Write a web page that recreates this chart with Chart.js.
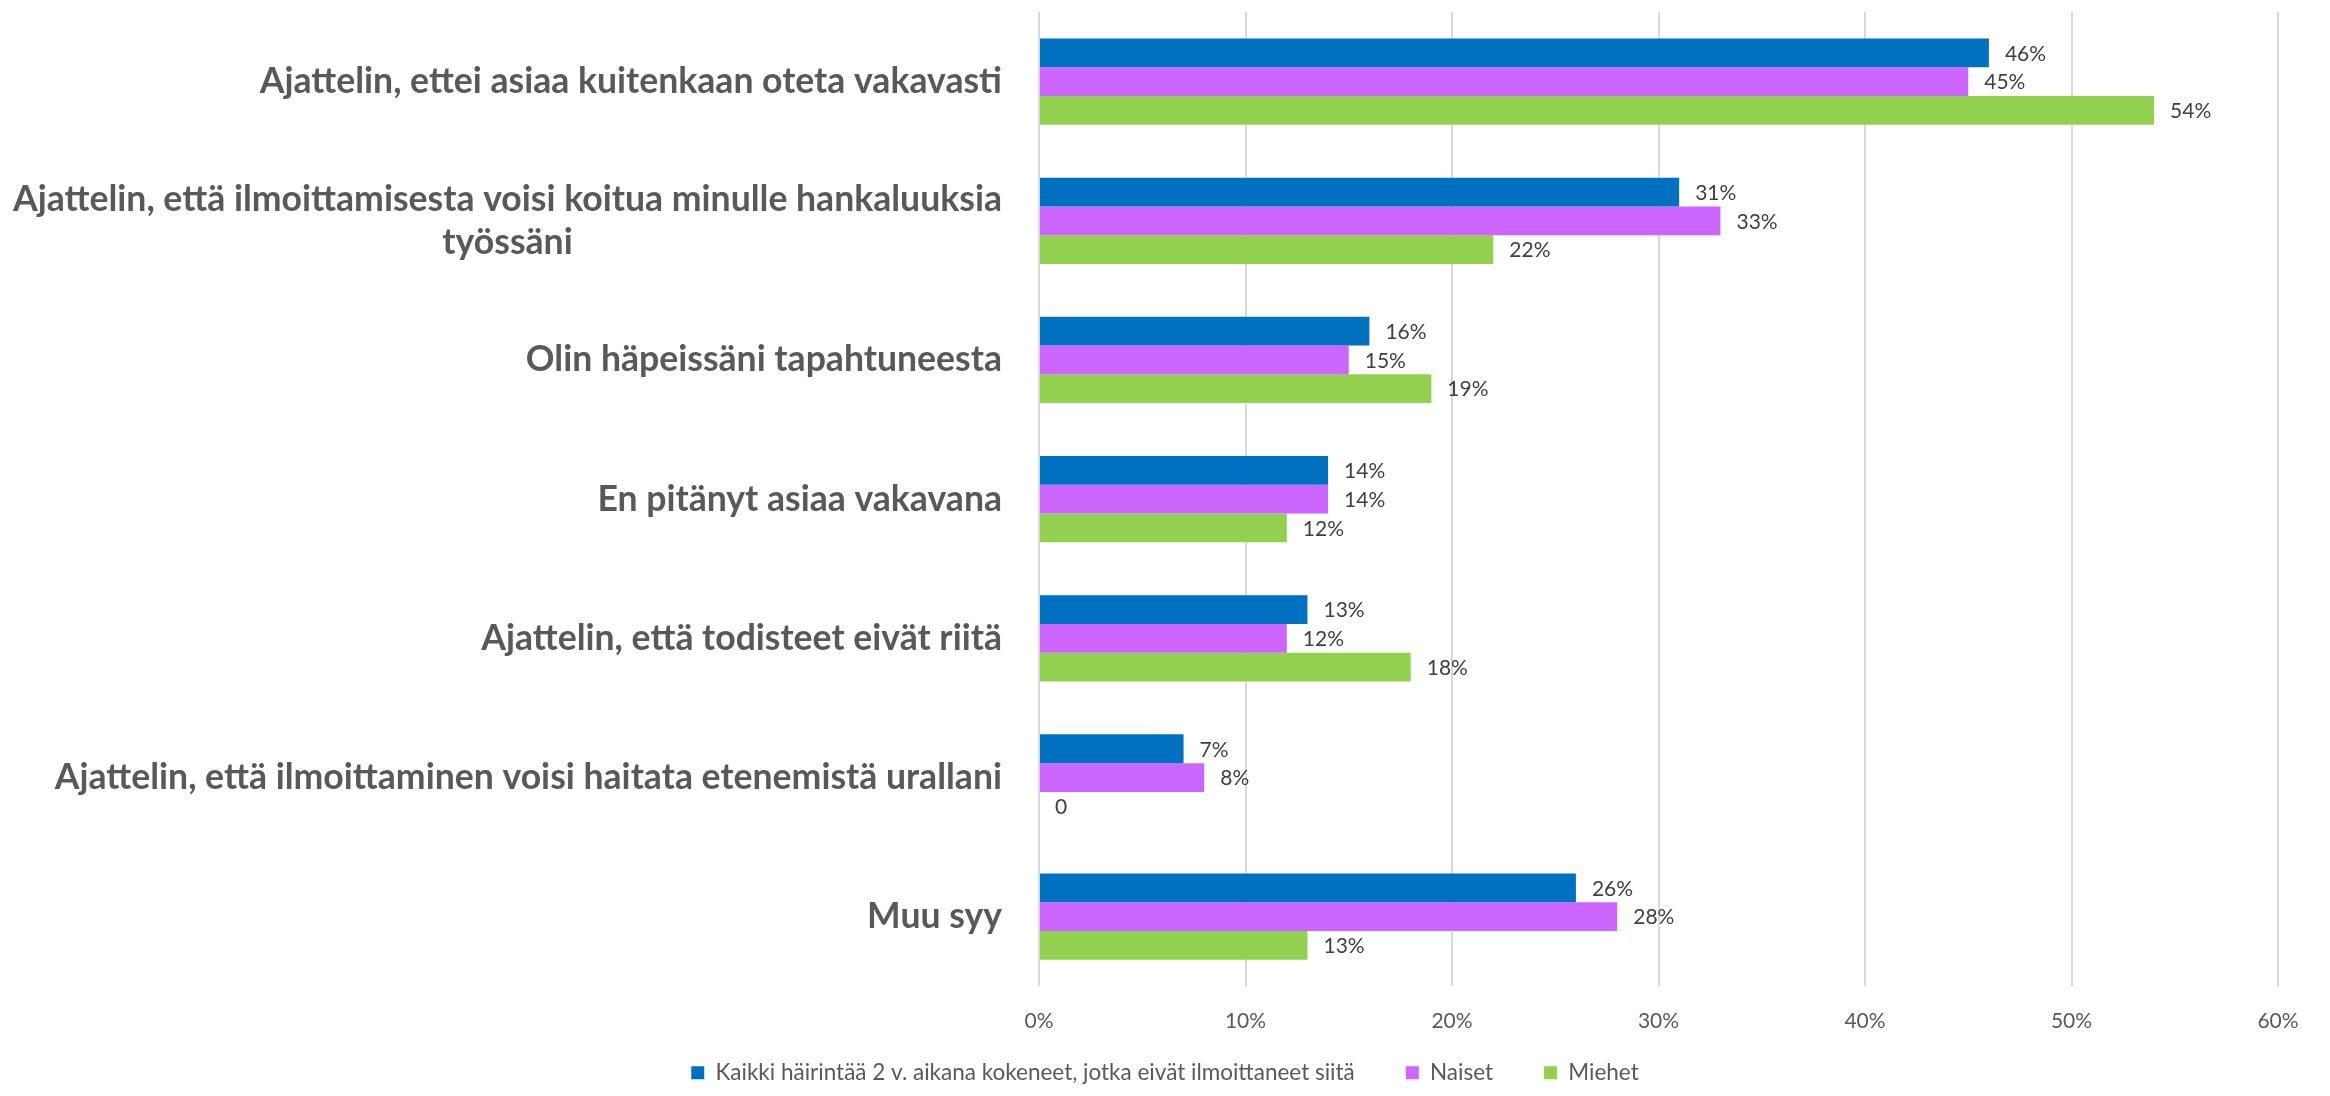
<!DOCTYPE html>
<html>
<head>
<meta charset="utf-8">
<title>Syyt olla ilmoittamatta häirinnästä</title>
<script src="https://cdn.jsdelivr.net/npm/chart.js@4.4.1/dist/chart.umd.min.js"></script>
<style>
  html, body { margin: 0; padding: 0; background: #fff; }
  canvas { display: block; }
</style>
</head>
<body>
<canvas id="reasonChart" width="2330" height="1096"></canvas>
<script>
// Category labels (one array entry per line of text)
const CATEGORIES = [
  ['Ajattelin, ettei asiaa kuitenkaan oteta vakavasti'],
  ['Ajattelin, että ilmoittamisesta voisi koitua minulle hankaluuksia', 'työssäni'],
  ['Olin häpeissäni tapahtuneesta'],
  ['En pitänyt asiaa vakavana'],
  ['Ajattelin, että todisteet eivät riitä'],
  ['Ajattelin, että ilmoittaminen voisi haitata etenemistä urallani'],
  ['Muu syy'],
];

const SERIES_NAMES = [
  'Kaikki häirintää 2 v. aikana kokeneet, jotka eivät ilmoittaneet siitä',
  'Naiset',
  'Miehet',
];

const ALL_VALUES   = [46, 31, 16, 14, 13, 7, 26];
const WOMEN_VALUES = [45, 33, 15, 14, 12, 8, 28];
const MEN_VALUES   = [54, 22, 19, 12, 18, 0, 13];

const X_MIN = 0;
const X_MAX = 60;
const X_STEP = 10;

const SERIES_COLORS = ['#0070C0', '#CC66FF', '#92D050'];

const FONT = 'Lato, "Open Sans", sans-serif';

// Value labels drawn at the end of each bar
const barValueLabels = {
  id: 'barValueLabels',
  afterDatasetsDraw(chart) {
    const ctx = chart.ctx;
    ctx.save();
    ctx.font = '21px ' + FONT;
    ctx.fillStyle = '#404040';
    ctx.textAlign = 'left';
    ctx.textBaseline = 'middle';
    chart.data.datasets.forEach((ds, di) => {
      const meta = chart.getDatasetMeta(di);
      if (meta.hidden) return;
      meta.data.forEach((bar, i) => {
        const v = ds.data[i];
        ctx.fillText(v === 0 ? '0' : v + '%', bar.x + 16, bar.y + 1);
      });
    });
    ctx.restore();
  }
};

// Category labels: right-aligned block, lines centred inside it (like Excel)
const categoryLabels = {
  id: 'categoryLabels',
  afterDraw(chart) {
    const ctx = chart.ctx;
    const yScale = chart.scales.y;
    const rightEdge = chart.chartArea.left - 37;
    const lineHeight = 43;
    ctx.save();
    ctx.font = 'bold 35.6px ' + FONT;
    ctx.fillStyle = '#595959';
    ctx.textAlign = 'center';
    ctx.textBaseline = 'middle';
    CATEGORIES.forEach((lines, i) => {
      const y = yScale.getPixelForValue(i);
      const maxW = Math.max(...lines.map(l => ctx.measureText(l).width));
      const cx = rightEdge - maxW / 2;
      lines.forEach((line, j) => {
        ctx.fillText(line, cx, y + (j - (lines.length - 1) / 2) * lineHeight);
      });
    });
    ctx.restore();
  }
};

new Chart(document.getElementById('reasonChart'), {
  type: 'bar',
  data: {
    labels: CATEGORIES.map(c => c.join(' ')),
    datasets: [ALL_VALUES, WOMEN_VALUES, MEN_VALUES].map((vals, i) => ({
      label: SERIES_NAMES[i],
      data: vals,
      backgroundColor: SERIES_COLORS[i],
      borderWidth: 0,
      categoryPercentage: 0.62,
      barPercentage: 1.0,
    })),
  },
  options: {
    indexAxis: 'y',
    responsive: false,
    animation: false,
    // equal side padding keeps the legend centred on the canvas
    layout: { padding: { left: 52, right: 52, top: 12, bottom: 2 } },
    plugins: {
      legend: {
        position: 'bottom',
        labels: {
          boxWidth: 13,
          boxHeight: 13,
          padding: 6,
          color: '#595959',
          font: { family: FONT, size: 22.5 },
          // legend padding is also the vertical gap, so widen entries with spaces
          generateLabels: chart => {
            const items = Chart.defaults.plugins.legend.labels.generateLabels(chart);
            items.forEach((it, i) => {
              if (i < items.length - 1) it.text += '\u2003\u2003\u2002';
            });
            return items;
          },
        },
      },
      tooltip: { enabled: false },
    },
    scales: {
      x: {
        min: X_MIN,
        max: X_MAX,
        ticks: {
          stepSize: X_STEP,
          padding: 22,
          color: '#595959',
          font: { family: FONT, size: 21 },
          callback: v => v + '%',
        },
        grid: { color: '#D9D9D9', lineWidth: 2, drawTicks: false },
        border: { display: false },
      },
      y: {
        ticks: { display: false },
        grid: { display: false },
        border: { display: false },
        afterFit: scale => { scale.width = 1039 - 52; },
      },
    },
  },
  plugins: [barValueLabels, categoryLabels],
});
</script>
</body>
</html>
